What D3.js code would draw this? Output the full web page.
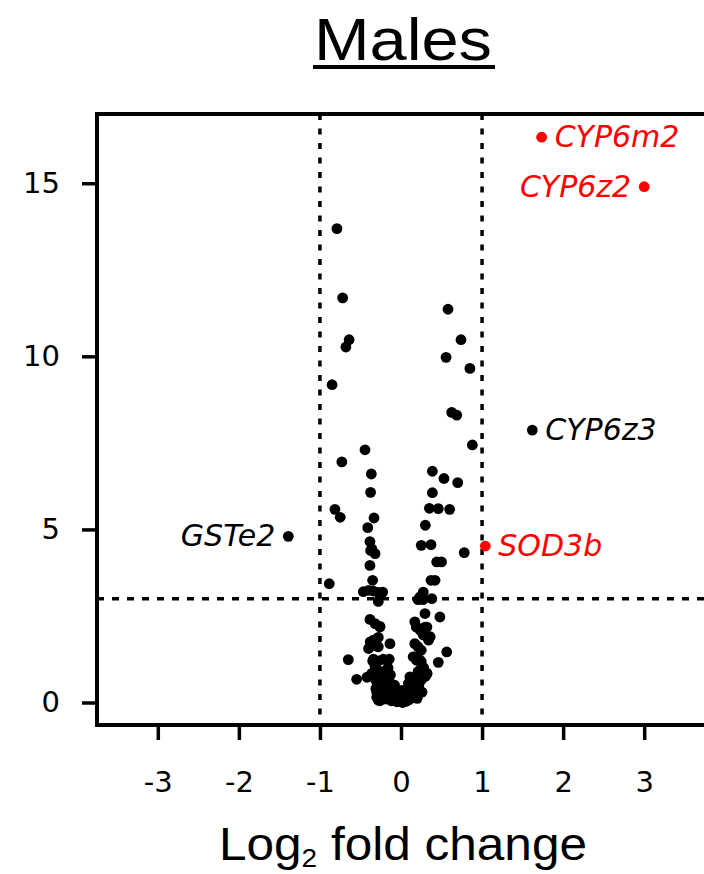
<!DOCTYPE html>
<html lang="en">
<head>
    <meta charset="UTF-8">
    <title>Volcano plot - Males</title>
    <script src="https://cdn.jsdelivr.net/npm/d3@7"></script>
    <style>
        body { margin: 0; background: #fff; }
        .tick line { stroke: #000; stroke-width: 3.5px; }
        .gene { font-family: "DejaVu Sans", Verdana, sans-serif; font-style: italic; font-size: 30px; }
    </style>
</head>
<body>
<svg id="volcano" width="704" height="874"></svg>
<script>
    let svg = d3.select('svg#volcano');

    // log2 fold change / -log10 p values
    let geneX = [
        -0.79, -0.72, -0.64, -0.68, -0.85, 0.58, 0.74, 0.556, 0.85, 0.626, 0.688, 0.88,
        0.387, 0.53, 0.70, 0.387, 0.35, 0.46, 0.60, 0.30, 0.25, 0.37, 0.78, 0.44, 0.50,
        0.37, 0.42, 0.275, 0.235, 0.38, -0.24, 0.296, 0.48, 0.19, 0.32, 0.36, -0.136, 0.564,
        0.17, 0.235, 0.46, 0.32, -0.26, -0.444, -0.73, -0.366, -0.375, -0.815, -0.75, -0.333,
        -0.41, -0.383, -0.36, -0.375, -0.32, -0.383, -0.885, -0.35, -0.465, -0.40, -0.34, -0.28,
        -0.226, -0.28, 0.21, 0.27, -0.383, -0.32, -0.26, 0.17, 0.19, 0.235, 0.296, 0.275, 0.34,
        -0.28, -0.34, -0.38, -0.40, -0.28, -0.30, 0.17, 0.21, 0.25, -0.65, -0.34, -0.28, -0.22,
        -0.145, 0.15, 0.19, 0.25, -0.547, -0.42, -0.36, 0.11, 0.21, 0.275, 0.32, -0.30, -0.28,
        -0.32, -0.30, -0.28, -0.33, -0.30, -0.27, -0.31, -0.28, -0.25, -0.30, -0.26, -0.22,
        -0.20, -0.22, -0.18, -0.20, -0.17, -0.15, -0.19, -0.12, -0.14, -0.10, -0.08, -0.11,
        -0.06, -0.05, -0.02, 0.00, 0.02, 0.04, 0.06, 0.08, 0.10, 0.12, 0.14, 0.15, 0.17, 0.18,
        0.20, 0.21, 0.22, 0.24, 0.25, 0.26, 0.28, 0.30, 0.20, -0.24, -0.35, -0.16, 0.12, -0.08,
        -0.04, 0.07, -0.13, 0.01, -0.23, 0.09, -0.18, 0.13
    ];
    let geneY = [
        13.69, 11.69, 10.48, 10.27, 9.18, 11.36, 10.48, 9.97, 9.65, 8.38, 8.30, 7.44,
        6.68, 6.47, 6.35, 6.06, 5.61, 5.60, 5.58, 5.12, 4.54, 4.56, 4.33, 4.06, 4.06,
        3.53, 3.53, 3.19, 3.05, 3.00, 3.16, 2.57, 2.47, 2.18, 2.18, 1.90, 1.70, 1.46,
        1.32, 1.22, 1.16, 0.84, 2.18, 7.30, 6.95, 6.60, 6.07, 5.58, 5.35, 5.33,
        5.05, 4.65, 4.44, 4.39, 4.30, 3.96, 3.43, 3.53, 3.20, 3.24, 3.22, 3.18,
        3.19, 2.92, 2.97, 2.97, 2.40, 2.28, 2.20, 2.33, 2.18, 2.09, 2.18, 1.95, 1.80,
        1.88, 1.80, 1.75, 1.56, 1.61, 1.63, 1.70, 1.61, 1.51, 1.24, 1.25, 1.20, 1.25,
        1.25, 1.32, 1.22, 1.18, 0.67, 0.73, 0.84, 0.74, 0.89, 0.74, 0.84, 0.31, 0.07,
        1.05, 0.95, 0.85, 0.70, 0.60, 0.50, 0.40, 0.30, 0.20, 0.15, 0.05, 0.90,
        0.70, 0.55, 0.45, 0.35, 0.25, 0.15, 0.10, 0.05, 0.60, 0.40, 0.30, 0.20,
        0.10, 0.02, 0.15, 0.05, 0.00, 0.10, 0.03, 0.20, 0.08, 0.30, 0.15, 0.45, 0.25, 0.60,
        0.40, 0.80, 0.50, 0.95, 0.65, 0.30, 1.00, 0.75, 0.12, 0.75, 1.20, 1.00, 0.55, 0.50,
        0.25, 0.35, 0.80, 0.35, 0.45, 0.55, 0.65, 0.70
    ];

    // labelled genes
    let labelNames = ['CYP6m2', 'CYP6z2', 'CYP6z3', 'SOD3b', 'GSTe2'];
    let labelX = [1.735, 3.0, 1.62, 1.04, -1.39];
    let labelY = [16.33, 14.9, 7.87, 4.52, 4.80];
    let labelColours = ['#ff0000', '#ff0000', '#000000', '#ff0000', '#000000'];
    let labelSide = ['right', 'left', 'right', 'right', 'left'];

    let xTicks = [-3, -2, -1, 0, 1, 2, 3];
    let yTicks = [0, 5, 10, 15];
    let foldCut = [-1, 1];
    let pCut = 3;

    let frame = {left: 97, right: 705, top: 114, bottom: 725};

    let xScale = d3.scaleLinear().domain([-3.75, 3.75]).range([frame.left, frame.right]);
    let yScale = d3.scaleLinear().domain([-0.65, 17]).range([frame.bottom, frame.top]);

    // title
    svg.append('text')
        .attr('x', 403).attr('y', 60)
        .attr('text-anchor', 'middle')
        .attr('textLength', 178).attr('lengthAdjust', 'spacingAndGlyphs')
        .style('font-family', '"Liberation Sans", Arial, sans-serif')
        .style('font-size', '60px')
        .text('Males');
    svg.append('rect')
        .attr('x', 313).attr('y', 65).attr('width', 182).attr('height', 4)
        .attr('fill', '#000');

    // axes (plain hyphen for negatives, like the original)
    let plain = d => String(d);
    let yAxis = svg.append('g')
        .attr('transform', 'translate(' + frame.left + ',0)')
        .call(d3.axisLeft(yScale).tickValues(yTicks).tickSize(15).tickPadding(22).tickFormat(plain))
        .call(g => g.select('.domain').remove());
    let xAxis = svg.append('g')
        .attr('transform', 'translate(0,' + frame.bottom + ')')
        .call(d3.axisBottom(xScale).tickValues(xTicks).tickSize(15).tickPadding(31).tickFormat(plain))
        .call(g => g.select('.domain').remove());
    svg.selectAll('.tick text')
        .style('font-family', '"DejaVu Sans", Verdana, sans-serif')
        .style('font-size', '29px')
        .attr('fill', '#000');

    // threshold lines
    svg.selectAll('line.vcut')
        .data(foldCut)
        .enter()
        .append('line')
        .attr('class', 'vcut')
        .attr('x1', d => xScale(d)).attr('x2', d => xScale(d))
        .attr('y1', frame.top).attr('y2', frame.bottom)
        .attr('stroke', '#000').attr('stroke-width', 3.5)
        .attr('stroke-dasharray', '6,8.5');
    svg.append('line')
        .attr('x1', frame.left).attr('x2', frame.right)
        .attr('y1', yScale(pCut)).attr('y2', yScale(pCut))
        .attr('stroke', '#000').attr('stroke-width', 3.5)
        .attr('stroke-dasharray', '7,8');

    // points
    svg.selectAll('circle.gene-pt')
        .data(d3.range(geneX.length))
        .enter()
        .append('circle')
        .attr('class', 'gene-pt')
        .attr('cx', i => xScale(geneX[i]))
        .attr('cy', i => yScale(geneY[i]))
        .attr('r', 5.4)
        .attr('fill', '#000');

    svg.selectAll('circle.lab-pt')
        .data(labelNames)
        .enter()
        .append('circle')
        .attr('class', 'lab-pt')
        .attr('cx', (d, i) => xScale(labelX[i]))
        .attr('cy', (d, i) => yScale(labelY[i]))
        .attr('r', 5.4)
        .attr('fill', (d, i) => labelColours[i]);

    svg.selectAll('text.gene')
        .data(labelNames)
        .enter()
        .append('text')
        .attr('class', 'gene')
        .attr('x', (d, i) => xScale(labelX[i]) + (labelSide[i] == 'right' ? 13 : -13))
        .attr('y', (d, i) => yScale(labelY[i]) + 10)
        .attr('text-anchor', (d, i) => labelSide[i] == 'right' ? 'start' : 'end')
        .attr('fill', (d, i) => labelColours[i])
        .text(d => d);

    // frame drawn last so it sits on top
    svg.append('rect')
        .attr('x', frame.left).attr('y', frame.top)
        .attr('width', frame.right + 10 - frame.left).attr('height', frame.bottom - frame.top)
        .attr('fill', 'none').attr('stroke', '#000').attr('stroke-width', 4);

    // x axis title with subscript
    let xt = svg.append('text')
        .attr('x', 403).attr('y', 860)
        .attr('text-anchor', 'middle')
        .attr('textLength', 368).attr('lengthAdjust', 'spacingAndGlyphs')
        .style('font-family', '"Liberation Sans", Arial, sans-serif')
        .style('font-size', '46px');
    xt.append('tspan').text('Log');
    xt.append('tspan').attr('font-size', '26px').attr('dy', 7).text('2');
    xt.append('tspan').attr('dy', -7).text(' fold change');
</script>
</body>
</html>
